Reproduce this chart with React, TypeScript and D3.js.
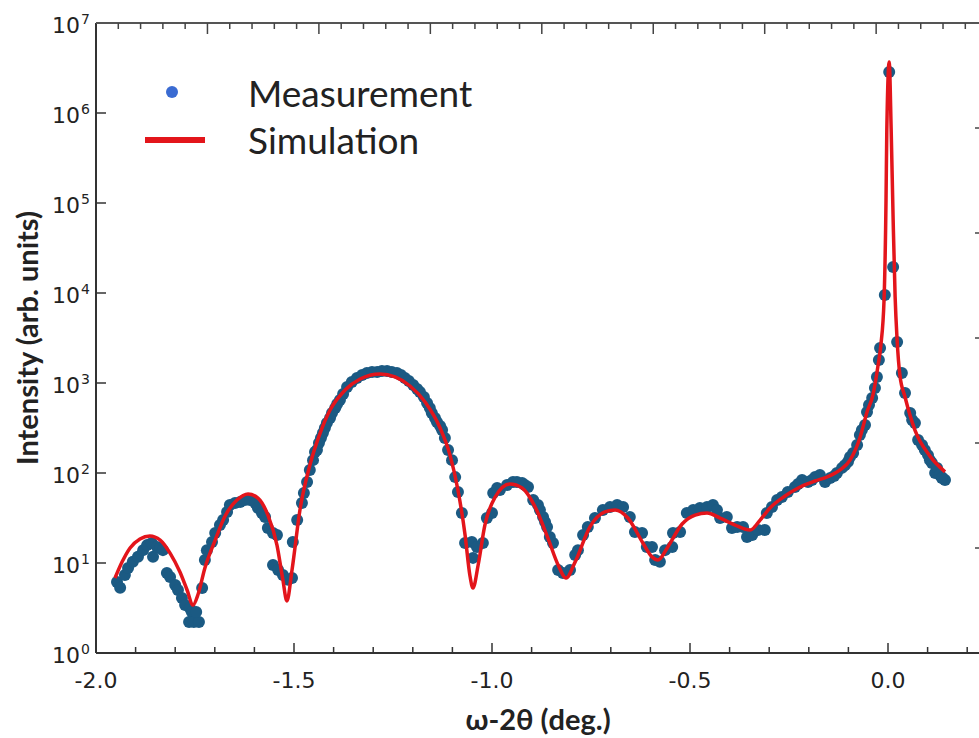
import React from "react";
import * as d3 from "d3";

// ---- data ----
const measX = [
  -1.947, -1.939, -1.927, -1.919, -1.907, -1.894, -1.881, -1.871, -1.859, -1.856,
  -1.846, -1.838, -1.831, -1.821, -1.813, -1.800, -1.793, -1.783, -1.775, -1.763,
  -1.758, -1.765, -1.753, -1.740, -1.747, -1.732, -1.725, -1.720, -1.707, -1.699,
  -1.687, -1.679, -1.669, -1.662, -1.649, -1.636, -1.624, -1.611, -1.598, -1.591,
  -1.581, -1.573, -1.566, -1.553, -1.543, -1.553, -1.540, -1.528, -1.515, -1.505,
  -1.503, -1.492, -1.480, -1.467, -1.460, -1.452, -1.442, -1.432, -1.422, -1.409,
  -1.396, -1.384, -1.366, -1.341, -1.316, -1.290, -1.265, -1.240, -1.220, -1.199,
  -1.182, -1.164, -1.152, -1.139, -1.126, -1.119, -1.111, -1.101, -1.093, -1.086,
  -1.076, -1.068, -1.051, -1.048, -1.038, -1.023, -1.013, -1.000, -0.997, -0.980,
  -0.962, -0.947, -0.924, -0.909, -0.896, -0.884, -0.871, -0.861, -0.854, -0.846,
  -0.833, -0.821, -0.803, -0.790, -0.783, -0.770, -0.758, -0.740, -0.720, -0.702,
  -0.684, -0.669, -0.652, -0.639, -0.621, -0.609, -0.596, -0.588, -0.576, -0.563,
  -0.545, -0.543, -0.525, -0.508, -0.492, -0.475, -0.457, -0.442, -0.432, -0.424,
  -0.407, -0.394, -0.381, -0.366, -0.356, -0.343, -0.328, -0.311, -0.306, -0.293,
  -0.280, -0.268, -0.253, -0.235, -0.217, -0.202, -0.184, -0.172, -0.159, -0.146,
  -0.129, -0.116, -0.101, -0.088, -0.078, -0.071, -0.058, -0.053, -0.040, -0.028,
  -0.020, -0.008, 0.003, 0.013, 0.023, 0.035, 0.043, 0.056, 0.068, 0.076,
  0.093, 0.106, 0.111, 0.119, 0.124, 0.131, 0.138, 0.144,
  // extra points in the dense parts of the scan
  -1.354, -1.328, -1.303, -1.278, -1.253, -1.230, -1.210, -1.189, -1.172, -1.157,
  -1.144, -1.131, -1.475, -1.447, -1.437, -1.427, -1.417, -1.404, -1.391, -1.376,
  -0.227, -0.192, -0.136, -0.109, -0.096, 0.061, 0.086, 0.101, 0.136, -0.066,
  -0.048, -0.033, -0.023, -0.987, -0.937, -0.917, -0.879, -0.866,
];
const measY = [
  6.15, 5.3, 7.36, 8.8, 10.3, 11.7, 13.9, 15.8, 16.7, 11.7,
  15.1, 14.7, 13.9, 7.74, 6.99, 5.7, 5.01, 4.08, 3.41, 3.16,
  2.85, 2.21, 2.21, 2.21, 2.85, 5.27, 10.8, 13.9, 17.1, 21.5,
  26.4, 30.0, 36.9, 44.1, 46.4, 47.6, 50.1, 50.1, 46.4, 40.8,
  35.9, 32.5, 24.5, 21.5, 20.5, 9.5, 8.36, 7.36, 6.5, 6.81,
  17.1, 30.0, 46.4, 79.4, 108, 139, 180, 245, 316, 408,
  527, 647, 903, 1136, 1292, 1326, 1360, 1292, 1136, 950,
  794, 599, 464, 369, 300, 245, 180, 139, 90, 61.5,
  35.9, 16.7, 17.1, 11.4, 15.1, 16.7, 31.6, 35.9, 59.9, 64.7,
  73.6, 79.4, 77.4, 69.9, 50.1, 44.1, 32.5, 25.1, 19.4, 16.7,
  8.36, 7.74, 8.36, 12.3, 13.9, 20.5, 25.1, 31.6, 38.8, 41.9,
  44.1, 41.9, 32.5, 22.1, 21.5, 15.1, 15.1, 10.8, 10.3, 13.9,
  15.1, 21.5, 22.1, 35.9, 38.8, 40.8, 41.9, 44.1, 38.8, 31.6,
  32.5, 24.5, 25.1, 25.1, 19.4, 20.5, 23.3, 23.3, 35.9, 41.9,
  50.1, 54.1, 61.5, 69.9, 83.6, 79.4, 90.3, 95.0, 79.4, 88.0,
  100, 114, 133, 167, 205, 264, 341, 476, 681, 1166,
  2448, 9500, 2.86e6, 19400, 2855, 1292, 774, 464, 359, 233,
  180, 139, 129, 100, 114, 95, 88, 83.6,
  1026, 1227, 1326, 1360, 1326, 1227, 1052, 858, 699, 527,
  408, 333, 60, 171, 215, 278, 359, 464, 584, 754,
  75.5, 83.6, 92.6, 122, 151, 388, 205, 158, 88, 300,
  570, 880, 1802, 68.1, 79.4, 73.6, 38.8, 28.5,
];

const simX = [
  -1.952, -1.934, -1.914, -1.889, -1.864, -1.838, -1.813, -1.788, -1.770, -1.755,
  -1.742, -1.725, -1.699, -1.674, -1.644, -1.616, -1.591, -1.566, -1.543, -1.528,
  -1.518, -1.505, -1.485, -1.460, -1.434, -1.409, -1.371, -1.333, -1.283, -1.245,
  -1.207, -1.169, -1.131, -1.106, -1.086, -1.068, -1.056, -1.048, -1.035, -1.018,
  -0.992, -0.955, -0.924, -0.891, -0.859, -0.833, -0.813, -0.790, -0.753, -0.715,
  -0.689, -0.657, -0.619, -0.596, -0.581, -0.556, -0.520, -0.487, -0.457, -0.424,
  -0.386, -0.348, -0.323, -0.298, -0.260, -0.222, -0.184, -0.154, -0.121, -0.096,
  -0.071, -0.053, -0.038, -0.025, -0.018, -0.010, -0.005, -0.003, 0.003, 0.008,
  0.013, 0.018, 0.023, 0.030, 0.043, 0.068, 0.106, 0.144,
];
const simY = [
  6.81, 10.3, 14.7, 18.5, 20.0, 18.0, 12.9, 7.94, 5.01, 3.41,
  4.52, 8.8, 18.0, 33.3, 50.1, 58.5, 52.7, 34.1, 15.8, 6.47,
  3.78, 8.36, 38.8, 122, 278, 501, 835, 1107, 1260, 1166,
  926, 615, 316, 158, 64.7, 20.5, 7.36, 5.27, 9.5, 26.4,
  54.1, 75.5, 68.1, 41.9, 19.0, 9.5, 6.81, 10.3, 25.1, 36.9,
  38.8, 31.6, 16.7, 11.7, 10.8, 15.1, 27.1, 34.1, 35.9, 31.6,
  26.4, 23.3, 30.0, 40.8, 55.5, 69.9, 81.5, 90.3, 108, 139,
  245, 476, 736, 1585, 2642, 8356, 1.08e5, 6.48e5, 3.69e6, 6.5e5,
  6.48e4, 9030, 3005, 1227, 699, 300, 154, 103,
];

const xMajor = [-2.0, -1.5, -1.0, -0.5, 0.0];
const xMajorLabels = ["-2.0", "-1.5", "-1.0", "-0.5", "0.0"];
const yDecades = [0, 1, 2, 3, 4, 5, 6, 7];

const W = 979;
const H = 738;
const L = 96;
const T = 23;
const B = 653;
const RIGHT = 979;

export default function App() {
  const x = d3.scaleLinear().domain([-2, 0]).range([L, 888]);
  const y = d3.scaleLog().domain([1, 1e7]).range([B, T]);
  const top = d3.scaleLinear().domain([0, 1]).range([L, L + 111.45]);
  const rightScale = d3.scaleLinear().domain([0, 6]).range([B, T]);

  const minorX = d3.range(-20, 3).map((k) => k / 10);
  const topTicks = d3.range(1, 40).map((k) => k / 5);
  const rightTicks = [1, 2, 3, 4, 5];

  const sim = simX.map((v, i) => [v, simY[i]] as [number, number]);
  const line = d3
    .line<[number, number]>()
    .x((d) => x(d[0]))
    .y((d) => y(d[1]))
    .curve(d3.curveMonotoneX);

  const axisColor = "#333";
  const tickFont = "'DejaVu Sans', Verdana, sans-serif";
  const labelFont = "Lato, 'Open Sans', sans-serif";

  return (
    <svg
      width={W}
      height={H}
      viewBox={`0 0 ${W} ${H}`}
      style={{ position: "absolute", left: 0, top: 0, background: "#fff" }}
    >
      <rect x={0} y={0} width={W} height={H} fill="#fff" />

      {/* measurement points */}
      <g>
        {measX.map((v, i) => (
          <circle key={i} cx={x(v)} cy={y(measY[i])} r={6} fill="#1b5a83" />
        ))}
      </g>
      {/* simulation */}
      <path d={line(sim) || ""} fill="none" stroke="#e3151b" strokeWidth={3.5} strokeLinejoin="round" />

      {/* axes lines */}
      <line x1={L} x2={L} y1={T} y2={B} stroke={axisColor} strokeWidth={2} />
      <line x1={L} x2={RIGHT} y1={B} y2={B} stroke={axisColor} strokeWidth={2} />
      <line x1={L} x2={RIGHT} y1={T} y2={T} stroke="#555" strokeWidth={2} />

      {/* bottom ticks */}
      {minorX.map((v, i) => {
        const major = Math.abs(v * 2 - Math.round(v * 2)) < 1e-6;
        return (
          <line key={i} x1={x(v)} x2={x(v)} y1={B} y2={B - (major ? 10 : 6)} stroke={axisColor} strokeWidth={1.5} />
        );
      })}
      {xMajor.map((v, i) => (
        <text key={i} x={x(v)} y={688} textAnchor="middle" fontFamily={tickFont} fontSize={22} fill="#222">
          {xMajorLabels[i]}
        </text>
      ))}

      {/* top ticks */}
      {topTicks.map((v, i) => {
        const major = Math.abs(v - Math.round(v)) < 1e-6;
        const px = top(v);
        if (px > RIGHT - 4) return null;
        return (
          <line key={i} x1={px} x2={px} y1={T} y2={T + (major ? 11 : 6)} stroke="#444" strokeWidth={1.5} />
        );
      })}

      {/* right ticks (cropped axis) */}
      {rightTicks.map((v, i) => (
        <line key={i} x1={975} x2={RIGHT} y1={rightScale(v)} y2={rightScale(v)} stroke="#444" strokeWidth={1.5} />
      ))}

      {/* left ticks & labels */}
      {yDecades.map((e) => {
        const py = y(Math.pow(10, e));
        return (
          <g key={e}>
            {e > 0 && e < 7 && <line x1={L} x2={L + 10} y1={py} y2={py} stroke={axisColor} strokeWidth={1.5} />}
            <text x={80} y={py + 10} textAnchor="end" fontFamily={tickFont} fontSize={22} fill="#222">
              10
            </text>
            <text x={81} y={py + 1} fontFamily={tickFont} fontSize={14} fill="#222">
              {String(e)}
            </text>
          </g>
        );
      })}

      {/* axis titles */}
      <text x={538} y={730} textAnchor="middle" fontFamily={labelFont} fontWeight="bold" fontSize={29} fill="#222">
        ω-2θ (deg.)
      </text>
      <text
        transform={`translate(38, 338) rotate(-90)`}
        textAnchor="middle"
        fontFamily={labelFont}
        fontWeight="bold"
        fontSize={29}
        fill="#222"
      >
        Intensity (arb. units)
      </text>

      {/* legend */}
      <circle cx={172} cy={92} r={6} fill="#3a6bd2" />
      <text x={248} y={107} fontFamily={labelFont} fontSize={37} fill="#222">
        Measurement
      </text>
      <line x1={145} x2={205} y1={140} y2={140} stroke="#e3151b" strokeWidth={6} />
      <text x={248} y={154} fontFamily={labelFont} fontSize={37} fill="#222">
        Simulation
      </text>
    </svg>
  );
}
